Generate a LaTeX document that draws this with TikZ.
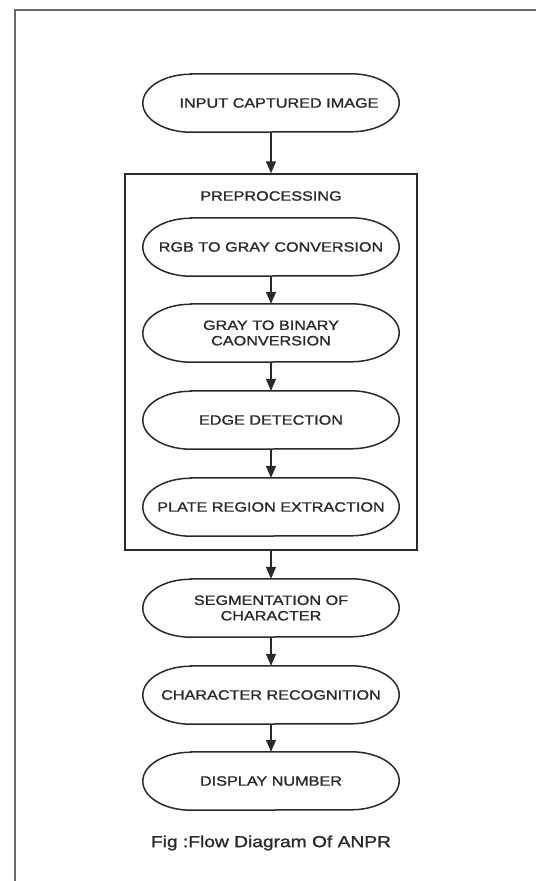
\documentclass[tikz,border=0pt]{standalone}
\usepackage{fontspec}
\setmainfont{Liberation Sans}[FakeStretch=1.2,FakeBold=1.3]
\usetikzlibrary{arrows.meta}
\definecolor{ink}{HTML}{2A2A2A}
\definecolor{framec}{HTML}{6A6A6A}
\tikzset{
  term/.style={minimum width=256pt, minimum height=58pt, inner sep=0pt, align=center,
    font=\fontsize{13.5}{15.5}\selectfont, text=ink},
  termline/.style={draw=ink, line width=1.5pt},
  flow/.style={draw=ink, line width=1.5pt, -{Triangle[width=10pt,length=12pt]}},
  prebox/.style={draw=ink, line width=1.5pt, minimum width=292pt, minimum height=376pt, inner sep=0pt},
  lbl/.style={font=\fontsize{13.5}{15.5}\selectfont, text=ink},
  figcaption/.style={font=\fontsize{16}{18}\selectfont, text=ink}
}
\begin{document}
\begin{tikzpicture}[x=1pt,y=-1pt]
\useasboundingbox (0,0) rectangle (536,881);
\fill[white] (0,0) rectangle (536,881);
\coordinate (fbl) at (15,881);
\coordinate (ftl) at (15,10);
\coordinate (ftr) at (536,10);
\draw[framec, line width=2pt] (fbl) -- (ftl) -- (ftr);

\node[prebox] (pre) at (271,362) {};
\node[lbl] (pret) at (271,196) {PREPROCESSING};

\node[term] (in)   at (271,103) {\hspace*{16pt}INPUT CAPTURED IMAGE};
\node[term] (rgb)  at (271,247) {RGB TO GRAY CONVERSION};
\node[term] (gray) at (271,333) {GRAY TO BINARY\\CAONVERSION};
\node[term] (edge) at (271,420) {EDGE DETECTION};
\node[term] (plate) at (271,507) {PLATE REGION EXTRACTION};
\node[term] (seg)  at (271,608) {SEGMENTATION OF\\CHARACTER};
\node[term] (chr)  at (271,695) {CHARACTER RECOGNITION};
\node[term] (disp) at (271,781) {DISPLAY NUMBER};

\foreach \n in {in,rgb,gray,edge,plate,seg,chr,disp}{
  \draw[termline] ([xshift=48pt]\n.north west) -- ([xshift=-48pt]\n.north east)
    arc[start angle=90, end angle=-90, x radius=48pt, y radius=29pt]
    -- ([xshift=48pt]\n.south west)
    arc[start angle=270, end angle=90, x radius=48pt, y radius=29pt] -- cycle;
}

\draw[flow] (in.south) -- (pre.north);
\draw[flow] (rgb.south) -- (gray.north);
\draw[flow] (gray.south) -- (edge.north);
\draw[flow] (edge.south) -- (plate.north);
\draw[flow] (pre.south) -- (seg.north);
\draw[flow] (seg.south) -- (chr.north);
\draw[flow] (chr.south) -- (disp.north);

\node[figcaption] (caption) at (271,843) {Fig :Flow Diagram Of ANPR};
\end{tikzpicture}
\end{document}
